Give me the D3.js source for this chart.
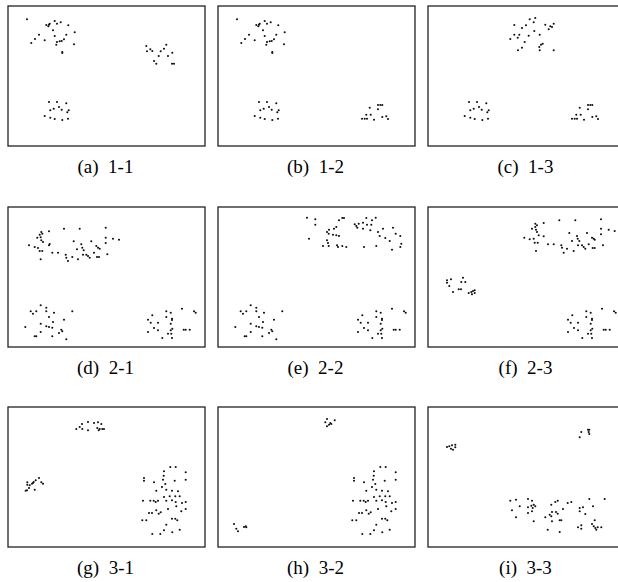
<!DOCTYPE html>
<html>
    <head>
        <title>clusters</title>
        <meta charset="UTF-8">
        <script src="https://d3js.org/d3.v7.min.js" charset="utf-8"></script>
        <style>
            body { margin: 0; background: #fff; }
        </style>
    </head>
    <body>
        <script>
            // panel captions, row by row
            var captions = ["(a)\u00a0 1-1", "(b)\u00a0 1-2", "(c)\u00a0 1-3",
                            "(d)\u00a0 2-1", "(e)\u00a0 2-2", "(f)\u00a0 2-3",
                            "(g)\u00a0 3-1", "(h)\u00a0 3-2", "(i)\u00a0 3-3"];

            // point clusters, [x, y] in panel units (x 0-197, y 0-140)
            var topLeft1 = [[19,126.7],[41,121.3],[38.3,121],[41.7,122.3],[40.3,119.7],[46.7,125],[49,122.3],[52.7,123.7],
                [60.3,120.7],[45,115.7],[66.7,113.7],[31,111.3],[46.7,110],[58.3,111.3],[27,107],[36.7,105.7],[56,106.7],
                [23.3,103],[49,104],[51.7,104.7],[53.7,105],[48.3,101.3],[66,101.7],[54.3,94],[54.3,93]];
            var right1 = [[138.3,100],[142.3,96.7],[144.3,95],[139,94.7],[158.3,101.3],[156,97.3],[152.7,94.7],[164.3,93.3],
                [150.7,90],[160,90],[146,85],[148.3,82.3],[164,82.3],[166,82.3]];
            var bottomLeft1 = [[41,44],[49,44],[58.3,42.7],[51,39],[45.7,37.3],[53.7,36.3],[42.3,35.7],[60.7,35.7],[59.3,33.7],
                [36.7,30],[42.3,28.3],[46.7,27],[54.3,26],[60,27.3]];
            var bottomRight1 = [[151.7,38.3],[160,41],[162.3,41],[164.3,41],[160,36.7],[148.3,31.3],[152.7,31.3],[144,27.3],
                [146.7,27.3],[149,27.3],[156,26.3],[164.3,29],[168.3,29.7],[170,27]];
            var top1c = [[101.7,126.7],[107.3,128],[105.7,123.7],[86.3,121],[98,120.7],[117.3,121.3],[122.3,119.7],[125.7,122.3],
                [94,118],[120.7,116.7],[124,119],[86.3,111.3],[91.3,111.3],[100.7,110.3],[106.3,115],[111.7,111.3],[82.3,107],
                [89.7,108.3],[96.7,104],[113,101.3],[114.7,102.3],[111.3,99],[94,98.3],[90,95.7],[111.7,95.7],[125.7,95.7]];

            var top2d = [[33.3,115],[34.3,113.3],[31.7,112.3],[41,115.7],[56,118.3],[71.7,118.3],[97.7,119.3],[29.3,109.3],
                [32.7,109.7],[33.3,106.7],[35,105],[41,101.7],[41.7,103],[21,101.7],[26.7,100],[30,99],[31.7,96],[34.3,96],
                [44.3,94.3],[50,94.3],[32.7,87.7],[57.7,92.3],[58.3,89.3],[60,86],[64.3,90],[70,87.7],[65.7,105.7],[73.3,102.7],
                [74.3,99.3],[69,97.7],[75.7,96.7],[83.3,105.7],[88.3,101],[90,99.3],[91.7,98.3],[86,94.3],[97.7,109.3],
                [105,108.3],[111,107.3],[97.7,104],[75,92.3],[78.3,92.3],[80,91],[81.7,89.3],[89,90],[91,90],[99.3,92.7]];
            var bottomLeft2 = [[32.7,41.7],[38.3,39.3],[22.7,35.7],[25,33.3],[28.3,35.7],[38.3,35.7],[46,34.3],[41,30],
                [64.3,35.7],[56,27.3],[45,25],[32.7,23.3],[17.3,20],[38.3,20.7],[41,20],[44.3,19.3],[53.3,17.3],[54.3,15.7],
                [51,14],[32.7,15],[26.7,10.7],[28.3,10.7],[44.3,10.7],[58.3,7.7]];
            var bottomRight2 = [[144.3,31.7],[158.3,35.7],[162.7,34.3],[174,38.3],[186,35.7],[187.7,34.3],[140,27.3],
                [142.7,24.3],[150,24.3],[158.3,30],[164,28.3],[164,27],[162.7,23.3],[146,19],[150,16.7],[164.3,18.3],
                [162.7,16.7],[140,15],[160,13.3],[163.3,13.3],[154.3,9],[164,9],[175.7,17.3],[177.7,17.3],[181.7,17.3]];
            var top2e = [[89,129.3],[97.3,127.7],[97.3,122.3],[91,108.3],[126,129],[124.3,129],[121,126.7],[118.3,120],
                [116,118.3],[111,117.3],[109,115],[110.7,113.3],[115,112.3],[118.3,111.7],[121,111],[109,106.7],[110,104],
                [105,101],[110.7,101],[119,101.7],[120,100],[124.3,101],[128.3,100],[136.7,122.7],[138.3,121],[140.7,123.3],
                [139.3,119.3],[145,124.3],[148.3,129],[154,126.7],[157.7,129.3],[145,118.3],[149,122.3],[153.3,122.3],
                [152.3,116.7],[160,115],[165,118.3],[161.7,111],[175,119.3],[177.7,113.3],[182.3,111],[171.7,106],
                [183.3,103.3],[182.3,100],[174,97.3],[146,100],[158.3,101],[167.3,109]];
            var top2f = [[107.3,123.3],[109,121.7],[107.3,120],[115.7,124],[131.3,126.7],[147.3,126.7],[173,127.7],
                [104,118.3],[108,117.3],[109,115],[110.7,111.7],[115.7,110.7],[96.3,109.3],[101.7,107.7],[105.7,108.3],
                [106.7,104.3],[109.7,104.3],[120,102.7],[125.7,102.7],[108,96],[133.3,101.7],[134,99.3],[135.7,94.3],
                [139,98.3],[145.7,96],[141.3,114],[149,111],[149.7,108.3],[144,106],[151.3,106],[159,114],[164,109.3],
                [165.7,108.3],[166.7,107.3],[160.7,102.7],[173,118.3],[180.7,117.3],[186.7,116],[173,112.7],[150,101.7],
                [154,101.7],[155.7,100],[157.3,98.3],[164.7,99],[166.7,99],[175,101.7]];
            var left2f = [[19,66.7],[23,67.7],[19,64.3],[21.3,61],[35,69.3],[33.3,65],[37.3,65],[30.7,57.7],[33,57.7],
                [25,55],[40.7,54],[43.3,55],[45,56],[46.7,56.7],[46.7,54],[44,52.7]];

            var top3g = [[74,123],[80,125],[86,124],[90,124.7],[93.3,123],[71.7,120],[68.3,118],[74.3,118],[80,116.7],
                [89.3,119],[91.7,118],[94.3,118],[96,118],[90.7,116.7]];
            var left3g = [[31,69],[27.7,66.7],[25.7,65],[24,63.3],[33.3,64.7],[35,63.3],[19.3,64.7],[19.3,62.3],[21.7,61.7],
                [21,59],[26.7,57.3],[17.7,56.3],[19,56.7],[25,64]];
            var bottomRight3 = [[162.3,80],[167.7,80],[156,75.7],[177.7,74.7],[155.7,71.3],[136,69],[136,66.3],[146,64.7],
                [155,67.3],[166.7,66.3],[177.7,67.3],[157.3,63],[154,60],[148.3,56.3],[158.3,57.3],[164,56.3],[170,55.7],
                [156,50],[161.7,50.7],[167.3,50.7],[171.7,50.7],[135,46.3],[142.3,46.3],[145.7,46.3],[147.7,45],[150,46.3],
                [158.3,46.3],[164,46.7],[167.7,45],[168.3,40.7],[174,44],[177.7,45],[173.3,35.7],[177.7,38],[160,38],
                [148.3,36.7],[141,34],[144,34],[150.7,33.3],[152.7,34.7],[134.3,26.7],[138.3,26.7],[164,28.3],[167.3,28.3],
                [169.3,26.7],[158.3,22.3],[156,16.7],[164.3,14.7],[171.7,17.3],[144.3,13],[152.3,13]];
            var top3h = [[109,128],[116.7,126.7],[107.3,124.7],[112.3,124],[113.3,123],[111,122.3],[109,120.7]];
            var bottomLeft3h = [[16,23],[18.3,18.3],[20,15.7],[26,20],[27.7,20.7],[28.3,19.7]];
            var topLeft3i = [[19,100],[21.3,100.7],[24,101.7],[27.3,102.3],[23,98.3],[25,97.3],[27.3,99.7]];
            var topRight3i = [[153.3,115],[160,117.3],[161.3,117.3],[160.7,115],[161.3,113],[151.7,109.7]];
            var bottom3i = [[82.3,46.3],[88,47.3],[100,48],[104,46.3],[91.7,40.7],[100,39.7],[103.3,41.3],[105.7,42.3],
                [107.3,40.7],[104.7,39],[84,36.7],[100,34],[104,35.7],[88,29.7],[105.7,25.7],[123.3,42.3],[127.3,45],
                [129.7,46.3],[139.7,44],[143.3,45],[135,38],[124,35],[128,35],[129.7,33.3],[121.7,32.3],[117.3,29.7],
                [123.3,30.7],[124,25.7],[131.7,26.7],[133.3,26.7],[119.7,17.3],[131.7,15],[151.7,39],[155,39.7],
                [151.7,35.7],[157.3,33],[161.3,48],[165,40.7],[176.7,48],[166.7,26.7],[164,23],[165.7,20.7],[167.3,19],
                [168.3,17.3],[169.7,19.7],[173.3,19.7],[150,19.7],[153.3,21.7],[153.3,18.3]];

            var panels = [
                [topLeft1, right1, bottomLeft1],
                [topLeft1, bottomLeft1, bottomRight1],
                [top1c, bottomLeft1, bottomRight1],
                [top2d, bottomLeft2, bottomRight2],
                [top2e, bottomLeft2, bottomRight2],
                [top2f, left2f, bottomRight2],
                [top3g, left3g, bottomRight3],
                [top3h, bottomLeft3h, bottomRight3],
                [topLeft3i, topRight3i, bottom3i]
            ];

            var width = 618, height = 582;
            var boxW = 197, boxH = 140;
            var colX = [8, 218, 428];
            var rowY = [6, 207, 407];

            var x = d3.scaleLinear().domain([0, 197]).range([0, boxW]);
            var y = d3.scaleLinear().domain([0, 140]).range([boxH, 0]);

            var svg = d3.select("body").append("svg")
                .attr("width", width)
                .attr("height", height);

            var g = svg.selectAll("g.panel").data(panels).enter().append("g")
                .attr("class", "panel")
                .attr("transform", function(d, i){
                    return "translate(" + colX[i % 3] + "," + rowY[Math.floor(i / 3)] + ")";
                });

            g.append("rect")
                .attr("x", 0)
                .attr("y", 0)
                .attr("width", boxW)
                .attr("height", boxH)
                .attr("fill", "none")
                .attr("stroke", "#222")
                .attr("stroke-width", 1.3);

            g.selectAll("circle")
                .data(function(d){ return d3.merge(d); })
                .enter().append("circle")
                .attr("cx", function(d){ return x(d[0]); })
                .attr("cy", function(d){ return y(d[1]); })
                .attr("r", 1.05)
                .attr("fill", "#111");

            g.append("text")
                .attr("x", boxW / 2 - 1)
                .attr("y", boxH + 27)
                .attr("text-anchor", "middle")
                .attr("font-family", "Liberation Serif, Times New Roman, serif")
                .attr("font-size", "19px")
                .attr("fill", "#000")
                .text(function(d, i){ return captions[i]; });
        </script>
    </body>
</html>
